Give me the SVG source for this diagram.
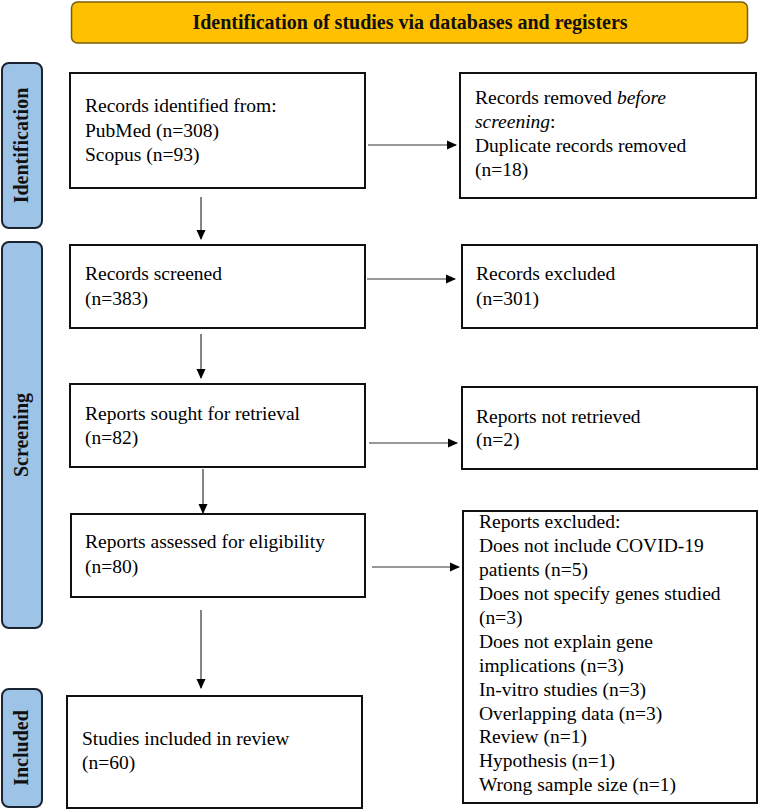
<svg xmlns="http://www.w3.org/2000/svg" width="759" height="810" viewBox="0 0 759 810">
<defs>
<style>
.box{fill:#fff;stroke:#111;stroke-width:2}
.lab{fill:#9DC3E6;stroke:#1a2330;stroke-width:2}
.hdr{fill:#FFC000;stroke:#7a5c0a;stroke-width:1.5}
.t{font-family:"Liberation Serif","Times New Roman",serif;font-size:19.5px;fill:#000}
.b{font-family:"Liberation Serif","Times New Roman",serif;font-size:20px;font-weight:bold;fill:#111}
.c{stroke:#333;stroke-width:1.2;fill:none;marker-end:url(#ah)}
</style>
<marker id="ah" markerWidth="10" markerHeight="10" refX="9" refY="5" orient="auto" markerUnits="userSpaceOnUse">
<path d="M0,0.5 L10,5 L0,9.5 z" fill="#000"/>
</marker>
</defs>
<rect width="759" height="810" fill="#fff"/>
<g id="header">
<rect class="hdr" x="71.5" y="2" width="676" height="41" rx="6"/>
<text class="b" x="410" y="29" text-anchor="middle">Identification of studies via databases and registers</text>
</g>
<g id="label-identification">
<rect class="lab" x="2" y="63" width="40" height="165" rx="7"/>
<text class="b" transform="translate(28,145.5) rotate(-90)" text-anchor="middle">Identification</text>
</g>
<g id="label-screening">
<rect class="lab" x="2" y="242" width="40" height="386" rx="7"/>
<text class="b" transform="translate(28,435) rotate(-90)" text-anchor="middle">Screening</text>
</g>
<g id="label-included">
<rect class="lab" x="2" y="689" width="40" height="118" rx="7"/>
<text class="b" transform="translate(28,748) rotate(-90)" text-anchor="middle">Included</text>
</g>
<g id="records-identified">
<rect class="box" x="70" y="73" width="295" height="115"/>
<text class="t" x="85" y="112">Records identified from:</text>
<text class="t" x="85" y="136.5">PubMed (n=308)</text>
<text class="t" x="85" y="161">Scopus (n=93)</text>
</g>
<g id="records-removed">
<rect class="box" x="460" y="73" width="296" height="125"/>
<text class="t" x="475" y="104">Records removed <tspan font-style="italic">before</tspan></text>
<text class="t" x="475" y="128"><tspan font-style="italic">screening</tspan>:</text>
<text class="t" x="475" y="152">Duplicate records removed</text>
<text class="t" x="475" y="176">(n=18)</text>
</g>
<g id="records-screened">
<rect class="box" x="70" y="245" width="295" height="83"/>
<text class="t" x="85" y="280">Records screened</text>
<text class="t" x="85" y="305">(n=383)</text>
</g>
<g id="records-excluded">
<rect class="box" x="462" y="245" width="295" height="83"/>
<text class="t" x="476" y="280">Records excluded</text>
<text class="t" x="476" y="305">(n=301)</text>
</g>
<g id="reports-sought">
<rect class="box" x="70" y="384" width="295" height="83"/>
<text class="t" x="85" y="420">Reports sought for retrieval</text>
<text class="t" x="85" y="444">(n=82)</text>
</g>
<g id="reports-not-retrieved">
<rect class="box" x="462" y="387" width="295" height="82"/>
<text class="t" x="476" y="423">Reports not retrieved</text>
<text class="t" x="476" y="446">(n=2)</text>
</g>
<g id="reports-assessed">
<rect class="box" x="71" y="514" width="294" height="83"/>
<text class="t" x="85" y="548">Reports assessed for eligibility</text>
<text class="t" x="85" y="573">(n=80)</text>
</g>
<g id="reports-excluded">
<rect class="box" x="463" y="511" width="294" height="292"/>
<text class="t" x="479" y="528">Reports excluded:</text>
<text class="t" x="479" y="552">Does not include COVID-19</text>
<text class="t" x="479" y="576">patients (n=5)</text>
<text class="t" x="479" y="600">Does not specify genes studied</text>
<text class="t" x="479" y="624">(n=3)</text>
<text class="t" x="479" y="648">Does not explain gene</text>
<text class="t" x="479" y="672">implications (n=3)</text>
<text class="t" x="479" y="696">In-vitro studies (n=3)</text>
<text class="t" x="479" y="720">Overlapping data (n=3)</text>
<text class="t" x="479" y="743">Review (n=1)</text>
<text class="t" x="479" y="767">Hypothesis (n=1)</text>
<text class="t" x="479" y="791">Wrong sample size (n=1)</text>
</g>
<g id="studies-included">
<rect class="box" x="67" y="696" width="295" height="112"/>
<text class="t" x="82" y="745">Studies included in review</text>
<text class="t" x="82" y="769">(n=60)</text>
</g>
<g id="connectors">
<path class="c" d="M368,145 H456"/>
<path class="c" d="M201,197 V239"/>
<path class="c" d="M367,279 H455"/>
<path class="c" d="M201,334 V378"/>
<path class="c" d="M369,443 H457"/>
<path class="c" d="M203,469 V513"/>
<path class="c" d="M372,567 H459"/>
<path class="c" d="M201,610 V688"/>
</g>
</svg>
